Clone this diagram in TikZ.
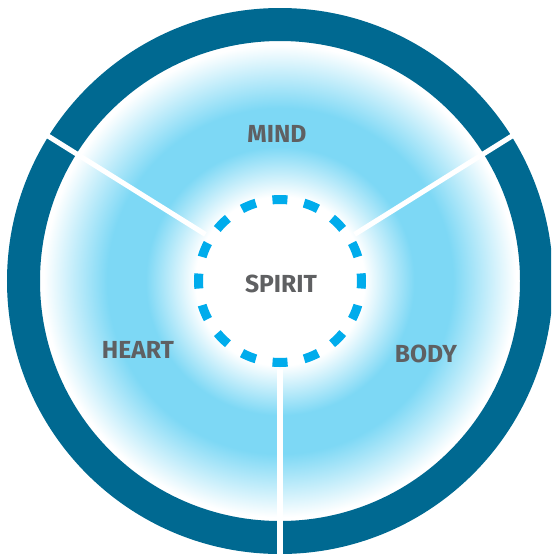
\documentclass[tikz,border=0pt]{standalone}
\usepackage{fontspec}
\setmainfont{Fira Sans}
\usetikzlibrary{calc}
\definecolor{ringblue}{RGB}{0,105,145}
\definecolor{dashcyan}{RGB}{0,172,236}
\definecolor{glowcyan}{RGB}{125,216,245}
\definecolor{labelgray}{RGB}{95,96,98}
\pgfdeclareradialshading{glow}{\pgfpoint{0bp}{0bp}}{color(0bp)=(white); color(8.8bp)=(white); color(14bp)=(glowcyan); color(18bp)=(glowcyan); color(24.6bp)=(white); color(50bp)=(white)}
\begin{document}
\begin{tikzpicture}[x=0.75pt,y=-0.75pt,
  lbl/.style={text=labelgray,font=\bfseries\fontsize{18.5}{18.5}\selectfont,inner sep=0pt},
  spoke/.style={white,line width=3.8pt},
  ringstyle/.style={ringblue,line width=24.75pt},
  dashring/.style={dashcyan,line width=6.75pt,dash pattern=on 11.25pt off 12.75pt,dash phase=5.625pt}]
\useasboundingbox (0,0) rectangle (551,554);
\clip (0,0) rectangle (551,554);
\coordinate (c) at (280,281);
\shade[shading=glow] (c) circle (240);
\draw[ringstyle] (c) circle (256.5);
\draw[dashring] (c) circle (81.5);
\coordinate (s1a) at ($(c)+(212:88)$);
\coordinate (s1b) at ($(c)+(212:285)$);
\coordinate (s2a) at ($(c)+(328:88)$);
\coordinate (s2b) at ($(c)+(328:285)$);
\coordinate (s3a) at ($(c)+(90:88)$);
\coordinate (s3b) at ($(c)+(90:285)$);
\draw[spoke] (s1a) -- (s1b);
\draw[spoke] (s2a) -- (s2b);
\draw[spoke] (s3a) -- (s3b);
\node[lbl] (mind) at (277,134) {MIND};
\node[lbl] (spirit) at (281,283.5) {SPIRIT};
\node[lbl] (heart) at (138,350) {HEART};
\node[lbl] (body) at (426,354) {BODY};
\end{tikzpicture}
\end{document}
